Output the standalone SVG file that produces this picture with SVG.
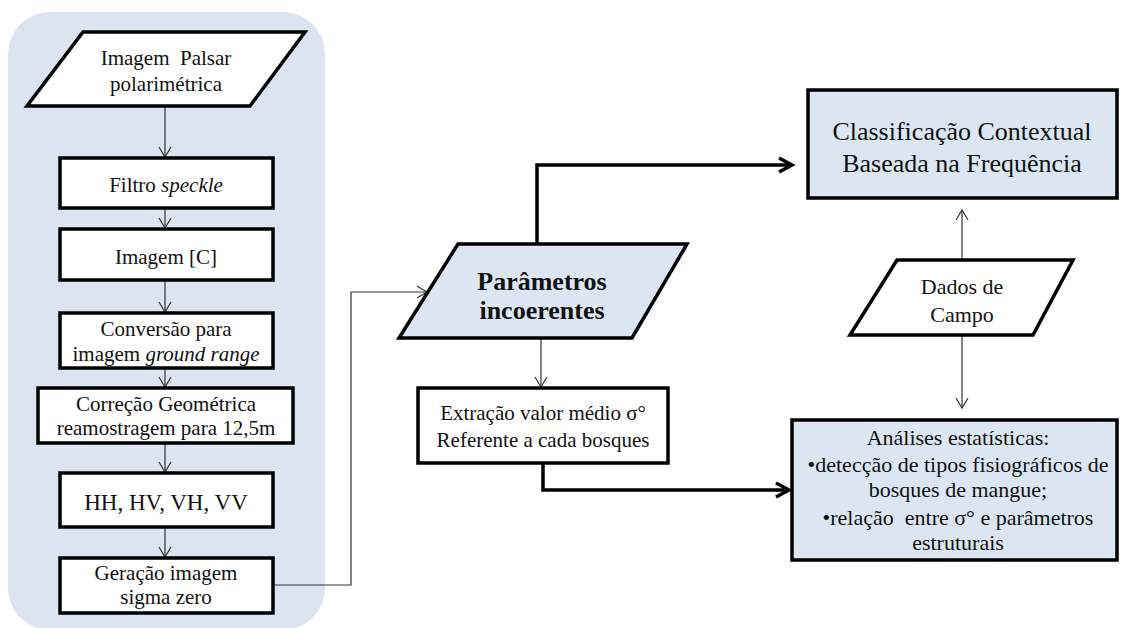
<svg xmlns="http://www.w3.org/2000/svg" width="1125" height="628" viewBox="0 0 1125 628">
<style>
.t{font-family:"Liberation Serif","Times New Roman",serif;font-size:21px;fill:#111;text-anchor:middle}
.b{stroke:#000;stroke-width:3.5;fill:#fff;stroke-linejoin:miter}
.bb{stroke:#000;stroke-width:3.5;fill:#dce6f2}
.thin{stroke:#333;stroke-width:1.2;fill:none}
.thick{stroke:#000;stroke-width:3.5;fill:none}
</style>
<defs>
<marker id="a" markerWidth="14" markerHeight="14" refX="12" refY="7" orient="auto" markerUnits="userSpaceOnUse">
<path d="M2,1 L12,7 L2,13" fill="none" stroke="#333" stroke-width="1.2"/>
</marker>
<marker id="A" markerWidth="20" markerHeight="20" refX="16" refY="10" orient="auto" markerUnits="userSpaceOnUse">
<path d="M3,3 L16,10 L3,17" fill="none" stroke="#000" stroke-width="3.5"/>
</marker>
</defs>
<rect width="1125" height="628" fill="#fff"/>
<rect id="bg" x="8" y="12" width="317" height="618" rx="42" fill="#dbe4f0"/>

<g id="connectors">
<line class="thin" x1="165" y1="106" x2="165" y2="157" marker-end="url(#a)"/>
<line class="thin" x1="165" y1="208" x2="165" y2="228" marker-end="url(#a)"/>
<line class="thin" x1="165" y1="280" x2="165" y2="312" marker-end="url(#a)"/>
<line class="thin" x1="165" y1="368" x2="165" y2="387" marker-end="url(#a)"/>
<line class="thin" x1="165" y1="443" x2="165" y2="472" marker-end="url(#a)"/>
<line class="thin" x1="165" y1="527" x2="165" y2="557" marker-end="url(#a)"/>
<polyline class="thin" points="273,585 351,585 351,292 427,292" marker-end="url(#a)"/>
<line class="thin" x1="541" y1="338" x2="541" y2="387" marker-end="url(#a)"/>
<polyline class="thick" points="537,244 537,165 792,165" marker-end="url(#A)"/>
<polyline class="thick" points="543,463 543,490 789,490" marker-end="url(#A)"/>
<line class="thin" x1="962" y1="260" x2="962" y2="210" marker-end="url(#a)"/>
<line class="thin" x1="962" y1="335" x2="962" y2="408" marker-end="url(#a)"/>
</g>

<g id="n1">
<polygon class="b" points="83,32 305,32 250,106 27,106"/>
<text class="t" x="166" y="65">Imagem&#160; Palsar</text>
<text class="t" x="166" y="91">polarimétrica</text>
</g>
<g id="n2">
<rect class="b" x="60" y="158" width="213" height="50"/>
<text class="t" x="166" y="192">Filtro <tspan font-style="italic">speckle</tspan></text>
</g>
<g id="n3">
<rect class="b" x="60" y="229" width="213" height="51"/>
<text class="t" x="166" y="264">Imagem [C]</text>
</g>
<g id="n4">
<rect class="b" x="60" y="313" width="213" height="55"/>
<text class="t" x="166" y="336">Conversão para</text>
<text class="t" x="166" y="361">imagem <tspan font-style="italic">ground range</tspan></text>
</g>
<g id="n5">
<rect class="b" x="38" y="388" width="255" height="55"/>
<text class="t" x="166" y="411">Correção Geométrica</text>
<text class="t" x="166" y="435">reamostragem para 12,5m</text>
</g>
<g id="n6">
<rect class="b" x="60" y="473" width="213" height="54"/>
<text class="t" x="166" y="510" style="font-size:23px">HH, HV, VH, VV</text>
</g>
<g id="n7">
<rect class="b" x="60" y="558" width="213" height="55"/>
<text class="t" x="166" y="580">Geração imagem</text>
<text class="t" x="166" y="604">sigma zero</text>
</g>
<g id="n8">
<polygon class="bb" points="458,244 687,244 632,338 399,338"/>
<text class="t" x="542" y="290" style="font-size:26px;font-weight:bold">Parâmetros</text>
<text class="t" x="542" y="319" style="font-size:26px;font-weight:bold">incoerentes</text>
</g>
<g id="n9">
<rect class="b" x="418" y="388" width="250" height="75"/>
<text class="t" x="543" y="420">Extração valor médio σ°</text>
<text class="t" x="543" y="447">Referente a cada bosques</text>
</g>
<g id="n10">
<rect class="bb" x="808" y="90" width="309" height="108"/>
<text class="t" x="962" y="140" style="font-size:26px">Classificação Contextual</text>
<text class="t" x="962" y="172" style="font-size:26px">Baseada na Frequência</text>
</g>
<g id="n11">
<polygon class="b" points="897,260 1073,260 1033,335 850,335"/>
<text class="t" x="962" y="294" style="font-size:22px">Dados de</text>
<text class="t" x="962" y="322" style="font-size:22px">Campo</text>
</g>
<g id="n12">
<rect class="bb" x="792" y="420" width="325" height="140"/>
<text class="t" x="958" y="445" style="font-size:22px">Análises estatísticas:</text>
<text class="t" x="958" y="472" style="font-size:22px">•detecção de tipos fisiográficos de</text>
<text class="t" x="958" y="497" style="font-size:22px">bosques de mangue;</text>
<text class="t" x="958" y="525" style="font-size:22px">•relação&#160; entre σ° e parâmetros</text>
<text class="t" x="958" y="550" style="font-size:22px">estruturais</text>
</g>
</svg>
